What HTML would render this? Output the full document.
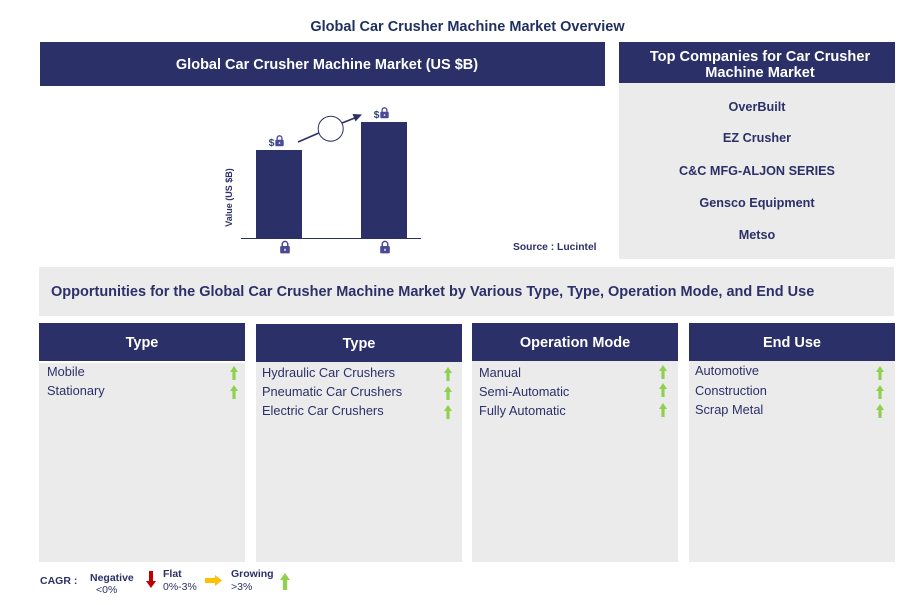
<!DOCTYPE html>
<html lang="en">
<head>
<meta charset="utf-8">
<title>Global Car Crusher Machine Market Overview</title>
<style>
html,body{margin:0;padding:0;background:#fff}
#page{position:relative;width:922px;height:605px;overflow:hidden;background:#fff;font-family:"Liberation Sans",Arial,sans-serif;color:#2c3068}
.abs{position:absolute}
.hdr{position:absolute;box-sizing:border-box;background:#2c3068;color:#fff;font-weight:bold;text-align:center;display:flex;align-items:center;justify-content:center;padding-top:2px}
.body{position:absolute;background:#ebebeb}
.co{position:absolute;left:619px;width:276px;text-align:center;font-size:12.65px;font-weight:bold;line-height:16px;color:#2c3068;white-space:nowrap}
.item{position:absolute;font-size:12.8px;line-height:16px;color:#2c3068;white-space:nowrap}
.up{position:absolute;width:10px;height:14px}
.t{position:absolute;white-space:nowrap;line-height:13px}
</style>
</head>
<body>
<div id="page">
<div class="abs" style="left:0;width:935px;top:18.5px;text-align:center;font-size:14.5px;line-height:16px;font-weight:bold;color:#1f2f5e">Global Car Crusher Machine Market Overview</div>

<div class="abs" style="left:40px;top:42px;width:565px;height:44px;background:#2c3068"></div>
<div class="abs" style="left:40px;top:57px;width:574px;text-align:center;font-size:14.5px;line-height:17px;font-weight:bold;color:#fff">Global Car Crusher Machine Market (US $B)</div>

<svg id="chart" class="abs" style="left:210px;top:95px" width="230" height="165" viewBox="210 95 230 165"></svg>
<div class="abs" style="left:513px;top:241px;font-size:10.3px;line-height:13px;font-weight:bold;color:#2c3068;white-space:nowrap">Source : Lucintel</div>

<div class="abs" style="left:619px;top:42px;width:276px;height:41px;background:#2c3068"></div>
<div class="abs" style="left:619px;top:49px;width:282px;text-align:center;font-size:14.6px;line-height:16px;font-weight:bold;color:#fff">Top Companies for Car Crusher<br>Machine Market</div>
<div class="body" style="left:619px;top:83px;width:276px;height:176px"></div>
<div class="co" style="top:99px">OverBuilt</div>
<div class="co" style="top:130px">EZ Crusher</div>
<div class="co" style="top:163px">C&amp;C MFG-ALJON SERIES</div>
<div class="co" style="top:195px">Gensco Equipment</div>
<div class="co" style="top:227px">Metso</div>

<div class="body" style="left:39px;top:267px;width:855px;height:49px"></div>
<div class="abs" style="left:51px;top:283.5px;font-size:14.5px;line-height:17px;font-weight:bold;color:#2c3068;white-space:nowrap">Opportunities for the Global Car Crusher Machine Market by Various Type, Type, Operation Mode, and End Use</div>

<div class="hdr" style="left:39px;top:323px;width:206px;height:38px;font-size:14.5px">Type</div>
<div class="body" style="left:39px;top:363px;width:206px;height:199px"></div>
<div class="item" style="left:47px;top:364px">Mobile</div>
<div class="item" style="left:47px;top:383px">Stationary</div>

<div class="hdr" style="left:256px;top:324px;width:206px;height:38px;font-size:14.5px">Type</div>
<div class="body" style="left:256px;top:362px;width:206px;height:200px"></div>
<div class="item" style="left:262px;top:365px">Hydraulic Car Crushers</div>
<div class="item" style="left:262px;top:384px">Pneumatic Car Crushers</div>
<div class="item" style="left:262px;top:403px">Electric Car Crushers</div>

<div class="hdr" style="left:472px;top:323px;width:206px;height:38px;font-size:14.5px">Operation Mode</div>
<div class="body" style="left:472px;top:361px;width:206px;height:201px"></div>
<div class="item" style="left:479px;top:365px">Manual</div>
<div class="item" style="left:479px;top:384px">Semi-Automatic</div>
<div class="item" style="left:479px;top:403px">Fully Automatic</div>

<div class="hdr" style="left:689px;top:323px;width:206px;height:38px;font-size:14.5px">End Use</div>
<div class="body" style="left:689px;top:361px;width:206px;height:201px"></div>
<div class="item" style="left:695px;top:363px">Automotive</div>
<div class="item" style="left:695px;top:383px">Construction</div>
<div class="item" style="left:695px;top:402px">Scrap Metal</div>

<svg class="up" style="left:229px;top:366px" viewBox="0 0 10 14"><path d="M5 0L9 6H6.6V14H3.4V6H1Z" fill="#8fd14f"/></svg>
<svg class="up" style="left:229px;top:385px" viewBox="0 0 10 14"><path d="M5 0L9 6H6.6V14H3.4V6H1Z" fill="#8fd14f"/></svg>
<svg class="up" style="left:443px;top:367px" viewBox="0 0 10 14"><path d="M5 0L9 6H6.6V14H3.4V6H1Z" fill="#8fd14f"/></svg>
<svg class="up" style="left:443px;top:386px" viewBox="0 0 10 14"><path d="M5 0L9 6H6.6V14H3.4V6H1Z" fill="#8fd14f"/></svg>
<svg class="up" style="left:443px;top:405px" viewBox="0 0 10 14"><path d="M5 0L9 6H6.6V14H3.4V6H1Z" fill="#8fd14f"/></svg>
<svg class="up" style="left:658px;top:365px" viewBox="0 0 10 14"><path d="M5 0L9 6H6.6V14H3.4V6H1Z" fill="#8fd14f"/></svg>
<svg class="up" style="left:658px;top:383px" viewBox="0 0 10 14"><path d="M5 0L9 6H6.6V14H3.4V6H1Z" fill="#8fd14f"/></svg>
<svg class="up" style="left:658px;top:403px" viewBox="0 0 10 14"><path d="M5 0L9 6H6.6V14H3.4V6H1Z" fill="#8fd14f"/></svg>
<svg class="up" style="left:875px;top:366px" viewBox="0 0 10 14"><path d="M5 0L9 6H6.6V14H3.4V6H1Z" fill="#8fd14f"/></svg>
<svg class="up" style="left:875px;top:385px" viewBox="0 0 10 14"><path d="M5 0L9 6H6.6V14H3.4V6H1Z" fill="#8fd14f"/></svg>
<svg class="up" style="left:875px;top:404px" viewBox="0 0 10 14"><path d="M5 0L9 6H6.6V14H3.4V6H1Z" fill="#8fd14f"/></svg>

<div class="t" style="left:40px;top:575px;font-size:10.5px;font-weight:bold">CAGR :</div>
<div class="t" style="left:90px;top:572px;font-size:10.5px;font-weight:bold">Negative</div>
<div class="t" style="left:96px;top:584px;font-size:10.5px">&lt;0%</div>
<svg class="abs" style="left:145px;top:571px" width="12" height="17" viewBox="0 0 12 17"><path d="M4 0H8V10H11L6 17L1 10H4Z" fill="#c00000"/></svg>
<div class="t" style="left:163px;top:568px;font-size:10.5px;font-weight:bold">Flat</div>
<div class="t" style="left:163px;top:581px;font-size:10.5px">0%-3%</div>
<svg class="abs" style="left:205px;top:575px" width="17" height="11" viewBox="0 0 17 11"><path d="M0 3H10V0L17 5.5L10 11V8H0Z" fill="#ffc000"/></svg>
<div class="t" style="left:231px;top:568px;font-size:10.5px;font-weight:bold">Growing</div>
<div class="t" style="left:231px;top:581px;font-size:10.5px">&gt;3%</div>
<svg class="abs" style="left:279px;top:573px" width="12" height="17" viewBox="0 0 12 17"><path d="M6 0L11 7H8.2V17H3.8V7H1Z" fill="#8fd14f"/></svg>
</div>

<script>
const categories = ['Start year', 'End year'];
const seriesValues = [88, 116];
const valueLabels = ['$', '$'];

const NS = 'http://www.w3.org/2000/svg';
const chart = document.getElementById('chart');
const NAVY = '#2c3068';
const LOCK = '#4b4a96';
const baseY = 238;
const barWidth = 46;
function xScale(i) { return 256 + i * 105; }
function yScale(v) { return baseY - v; }
function make(tag, attrs) {
  const el = document.createElementNS(NS, tag);
  for (const k in attrs) el.setAttribute(k, attrs[k]);
  chart.appendChild(el);
  return el;
}
function drawLock(cx, top, s) {
  const g = document.createElementNS(NS, 'g');
  
  
  g.setAttribute('transform', 'translate(' + (cx - 5 * s) + ',' + top + ') scale(' + s + ')');
  g.innerHTML = '<path d="M2.6 5V3.2a2.4 2.4 0 0 1 4.8 0V5" fill="none" stroke="' + LOCK + '" stroke-width="1.3"/>' +
    '<rect x="0.8" y="4.8" width="8.4" height="6.4" rx="1" fill="' + LOCK + '"/>' +
    '<rect x="4.3" y="7.2" width="1.4" height="1.8" fill="#dcdcf0"/>';
  chart.appendChild(g);
}
categories.forEach(function (c, i) {
  const v = seriesValues[i];
  const x = xScale(i);
  const y = yScale(v);
  const bar = make('rect', { x: x, y: y, width: barWidth, height: baseY - y, fill: NAVY });
  
  
  const label = make('text', { x: x + 15.5, y: y - 4, 'text-anchor': 'middle', 'font-size': 10.5, 'font-weight': 'bold', fill: '#2c4a7c', 'font-family': '"Liberation Sans",Arial,sans-serif' });
  label.textContent = valueLabels[i];
  
  
  drawLock(x + 23.5, y - 15, 1);
  drawLock(x + 29 - i * 5, baseY + 2.5, 1.15);
});
const axis = make('line', { x1: 241, x2: 421, y1: baseY + 0.5, y2: baseY + 0.5, stroke: NAVY, 'stroke-width': 1 });


const yTitle = make('text', { transform: 'translate(232,197.5) rotate(-90)', 'text-anchor': 'middle', 'font-size': 9, 'font-weight': 'bold', fill: NAVY, 'font-family': '"Liberation Sans",Arial,sans-serif' });
yTitle.textContent = 'Value (US $B)';


const t1 = make('line', { x1: 298, y1: 142, x2: 320, y2: 132.5, stroke: NAVY, 'stroke-width': 1.6 });


const t2 = make('line', { x1: 342, y1: 123, x2: 356, y2: 117.5, stroke: NAVY, 'stroke-width': 1.6 });


const head = make('path', { d: 'M362 114.5L352.5 114L355.5 121.5Z', fill: NAVY });


const circle = make('circle', { cx: 330.7, cy: 128.7, r: 12.5, fill: '#fff', stroke: NAVY, 'stroke-width': 1 });


</script>
</body>
</html>
